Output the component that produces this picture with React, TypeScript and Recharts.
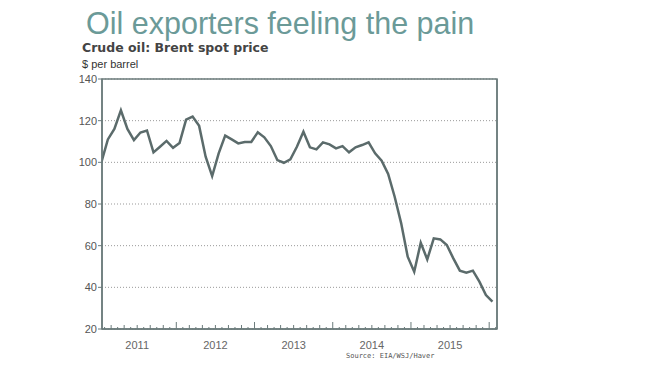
import React from 'react';
import { LineChart, Line, XAxis, YAxis, CartesianGrid, ReferenceArea } from 'recharts';

// monthly Brent price, Jan 2011 .. Jan 2016 ($/barrel)
const prices = [
  100, 111, 116, 125, 116, 110.7, 114.3, 115.3, 104.8, 107.5, 110.3, 107,
  109.3, 120.5, 122, 117.5, 102.7, 93.4, 104.3, 112.8, 111, 109.1, 109.8, 109.8,
  114.4, 112, 107.8, 101.1, 99.8, 101.4, 107.5, 114.7, 107.2, 106.2, 109.6, 108.6,
  106.7, 107.8, 104.8, 107.2, 108.3, 109.6, 104.3, 100.8, 94.4, 83.5, 70.7, 54.7,
  47.5, 61.4, 53.4, 63.5, 63, 60.3, 53.9, 48, 47, 48, 42.7, 36.3,
  33.1,
];
const years = ['2011', '2012', '2013', '2014', '2015'];
const yTicks = [20, 40, 60, 80, 100, 120, 140];

// t = months since start of 2011, points sit mid-month
const data = prices.map((p, i) => ({ t: i + 0.5, price: p }));
const monthTicks = Array.from({ length: 61 }, (_, i) => i + 1);

const frame = '#6b7b7b';
const textCol = '#555';
const sans = "'Liberation Sans', Arial, sans-serif";

const MonthTick = ({ x, y, payload }: any) => {
  const m = payload.value;
  const h = m % 12 === 0 ? 7 : m % 2 === 0 ? 4 : 2;
  const yearIdx = Math.floor(m / 12);
  const showLabel = m % 12 === 6 && years[yearIdx];
  return (
    <g>
      <line x1={x} y1={y} x2={x} y2={y - h} stroke={frame} strokeWidth={1} />
      {showLabel && (
        <text x={x} y={y + 20} textAnchor="middle" fill="#666" fontSize={11} fontFamily={sans}>
          {years[yearIdx]}
        </text>
      )}
    </g>
  );
};

export default function App() {
  return (
    <div style={{ position: 'absolute', left: 0, top: 0, width: 660, height: 372, background: '#fff', overflow: 'hidden' }}>
      <div style={{ position: 'absolute', left: 86, top: 6, fontFamily: sans, fontSize: 30.5, color: '#6b9a98', whiteSpace: 'nowrap' }}>
        Oil exporters feeling the pain
      </div>
      <div style={{ position: 'absolute', left: 82, top: 40, fontFamily: "'DejaVu Sans', Verdana, sans-serif", fontWeight: 'bold', fontSize: 12.5, color: '#444', whiteSpace: 'nowrap' }}>
        Crude oil: Brent spot price
      </div>
      <div style={{ position: 'absolute', left: 82, top: 58, fontFamily: sans, fontSize: 11, color: '#333', whiteSpace: 'nowrap' }}>
        $ per barrel
      </div>
      <div style={{ position: 'absolute', left: 0, top: 0 }}>
        <LineChart width={660} height={372} data={data} margin={{ top: 79, right: 123, bottom: 13, left: 62 }}>
          <CartesianGrid vertical={false} horizontal yAxisId="left" stroke="#999" strokeDasharray="1 2" />
          <XAxis
            type="number"
            dataKey="t"
            domain={[0.6, 61.2]}
            allowDataOverflow
            ticks={monthTicks}
            interval={0}
            tick={<MonthTick />}
            tickLine={false}
            tickSize={0}
            tickMargin={0}
            height={30}
            axisLine={{ stroke: frame, strokeWidth: 1.5 }}
          />
          <YAxis
            yAxisId="left"
            domain={[20, 140]}
            ticks={yTicks}
            width={40}
            tickSize={4}
            tickLine={{ stroke: frame }}
            axisLine={{ stroke: frame, strokeWidth: 1.5 }}
            tick={{ fill: textCol, fontSize: 11, fontFamily: sans }}
            tickMargin={1}
          />
          <YAxis
            yAxisId="right"
            orientation="right"
            domain={[20, 140]}
            ticks={yTicks}
            width={40}
            tickSize={4}
            tickLine={{ stroke: frame }}
            axisLine={{ stroke: frame, strokeWidth: 1.5 }}
            tick={{ fill: textCol, fontSize: 11, fontFamily: sans }}
            tickMargin={1}
          />
          <ReferenceArea yAxisId="left" x1={0.6} x2={61.2} y1={20} y2={140} fill="none" stroke={frame} strokeWidth={1.5} />
          <Line
            yAxisId="left"
            type="linear"
            dataKey="price"
            stroke="#5b6b6b"
            strokeWidth={2.5}
            dot={false}
            isAnimationActive={false}
          />
        </LineChart>
      </div>
      <div style={{ position: 'absolute', left: 346, top: 352, fontFamily: "'DejaVu Sans Mono', monospace", fontSize: 7, color: '#555', whiteSpace: 'nowrap' }}>
        Source: EIA/WSJ/Haver
      </div>
    </div>
  );
}
